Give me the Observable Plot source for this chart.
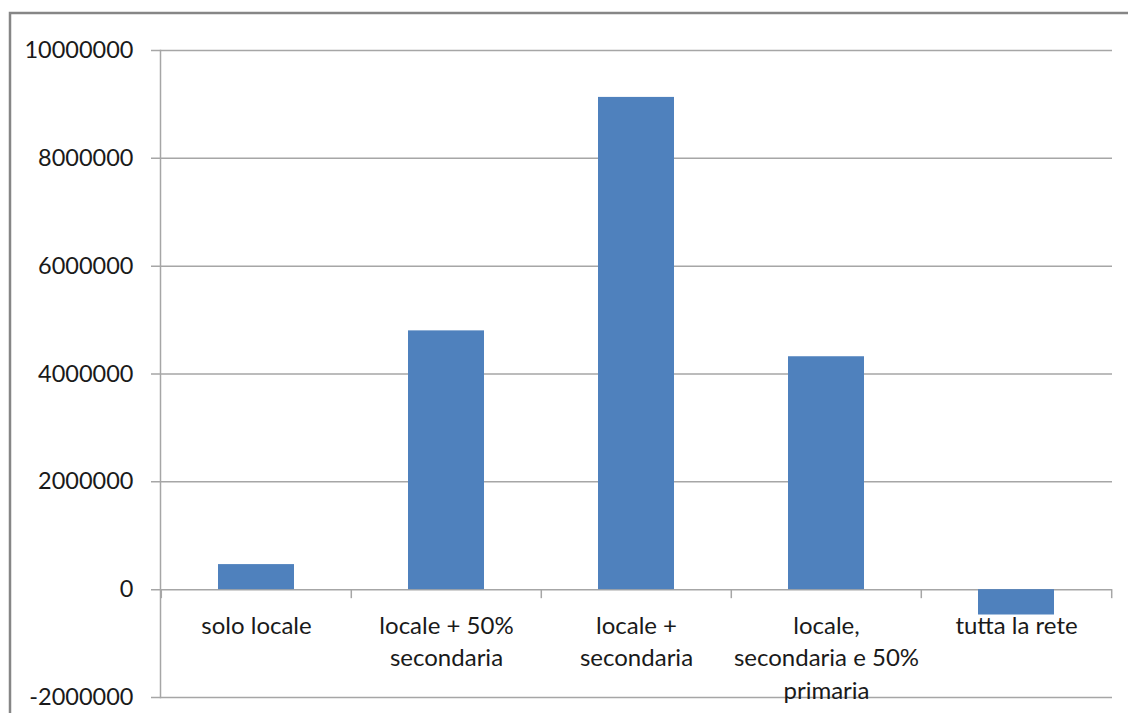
<!DOCTYPE html>
<html>
<head>
<meta charset="utf-8">
<script src="https://cdn.jsdelivr.net/npm/d3@7"></script>
<script src="https://cdn.jsdelivr.net/npm/@observablehq/plot@0.6"></script>
<style>
  html, body { margin: 0; padding: 0; background: #fff; }
  #chart { width: 1128px; height: 713px; overflow: hidden; }
</style>
</head>
<body>
<div id="chart"></div>
<script>
// Scenarios compared
const categories = [
  "solo locale",
  "locale + 50% secondaria",
  "locale + secondaria",
  "locale, secondaria e 50% primaria",
  "tutta la rete"
];
// Axis labels, broken over lines
const labels = [
  "solo locale",
  "locale + 50%\nsecondaria",
  "locale +\nsecondaria",
  "locale,\nsecondaria e 50%\nprimaria",
  "tutta la rete"
];
// Values per scenario
const values = [465000, 4800000, 9130000, 4320000, -470000];
// Y axis ticks
const yTicks = [-2000000, 0, 2000000, 4000000, 6000000, 8000000, 10000000];

const data = categories.map((c, i) => ({category: c, label: labels[i], value: values[i]}));

const W = 1128, H = 713;
const mL = 160, mR = 16, mT = 50, mB = 16;
const halfStep = (W - mL - mR) / categories.length / 2;
const grid = "#a6a6a6";
const font = "Lato, 'Open Sans', sans-serif";
const plain = d => String(d); // hyphen-minus, no grouping

const chart = Plot.plot({
  width: W,
  height: H,
  marginLeft: mL,
  marginRight: mR,
  marginTop: mT,
  marginBottom: mB,
  style: {background: "#fff", fontFamily: font, fontSize: "23.5px", color: "#1a1a1a"},
  x: {domain: categories, paddingInner: 0.6, paddingOuter: 0.3, axis: null},
  y: {domain: [-2000000, 10000000], ticks: yTicks, tickFormat: plain},
  marks: [
    // horizontal gridlines, reaching out over the tick area
    Plot.ruleY(yTicks, {stroke: grid, strokeWidth: 1.5, insetLeft: -9}),
    Plot.barY(data, {x: "category", y: "value", fill: "#4f81bd"}),
    // category separators hanging below the zero line
    Plot.ruleX(categories, {x: d => d, y1: 0, y2: -167000, dx: -halfStep, stroke: grid, strokeWidth: 1.5}),
    Plot.ruleX(categories.slice(-1), {x: d => d, y1: 0, y2: -167000, dx: halfStep, stroke: grid, strokeWidth: 1.5}),
    Plot.frame({anchor: "left", stroke: grid, strokeWidth: 1.5}),
    Plot.axisY({ticks: yTicks, tickFormat: plain, tickSize: 0, tickPadding: 27, fontSize: 23.5, fill: "#1a1a1a", label: null}),
    Plot.text(data, {
      x: "category", y: 0, text: "label",
      lineAnchor: "top", lineHeight: 1.36, dy: 21,
      fontSize: 24, fill: "#1a1a1a", textAnchor: "middle"
    })
  ]
});

// outer chart-area border (top and left edges)
const svg = d3.select(chart);
svg.append("path")
  .attr("d", `M10,${H + 5}V13H${W + 5}`)
  .attr("fill", "none")
  .attr("stroke", "#868686")
  .attr("stroke-width", 2.5);

document.getElementById("chart").appendChild(chart);
</script>
</body>
</html>
